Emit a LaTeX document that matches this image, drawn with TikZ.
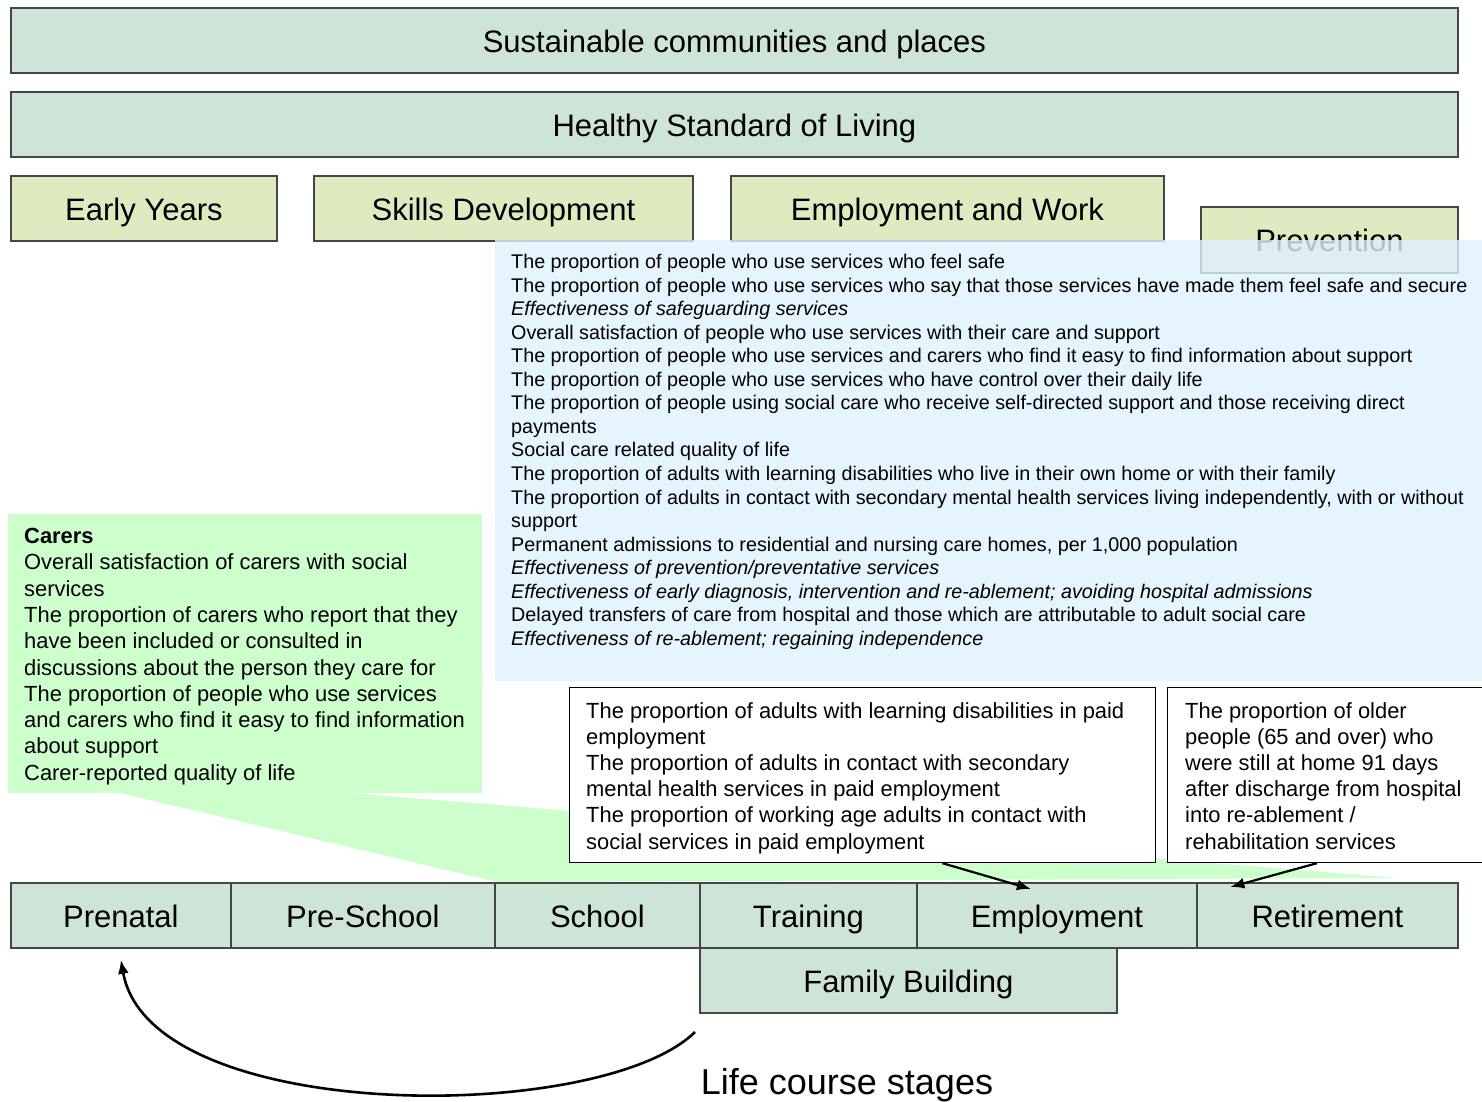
\documentclass[tikz,border=0pt]{standalone}
\usepackage{fontspec}
\setmainfont{Liberation Sans}
\usetikzlibrary{arrows.meta,calc}
\definecolor{stagefill}{RGB}{206,228,215}
\definecolor{themefill}{RGB}{222,235,192}
\definecolor{bluefill}{RGB}{224,241,254}
\definecolor{carerfill}{RGB}{204,255,204}
\definecolor{boxline}{RGB}{70,70,70}
\begin{document}
\begin{tikzpicture}[x=1pt,y=-1pt,
  bigbox/.style={draw=boxline, line width=1.8pt, fill=stagefill, anchor=north west, inner sep=0pt,
    minimum height=65pt, text height=27pt, text depth=3pt, font=\fontsize{31}{36}\selectfont},
  themebox/.style={bigbox, fill=themefill},
  stagebox/.style={bigbox},
  infotext/.style={anchor=north west, inner sep=0pt, align=left},
  whitebox/.style={draw=black, line width=1.2pt, fill=white, anchor=north west, inner sep=0pt, minimum height=175pt},
  arr/.style={line width=2.2pt, -{Latex[length=14pt,width=11pt]}}
]
\useasboundingbox (0,0) rectangle (1482,1102);

% top bands
\node[bigbox, minimum width=1447pt] (sus) at (10,7) {Sustainable communities and places};
\node[bigbox, minimum width=1447pt] (hsl) at (10,91) {Healthy Standard of Living};

% themes
\node[themebox, minimum width=266pt] (ey) at (10,175) {Early Years};
\node[themebox, minimum width=379pt] (sd) at (313,175) {Skills Development};
\node[themebox, minimum width=433pt] (ew) at (730,175) {Employment and Work};
\node[themebox, minimum width=257pt, minimum height=66pt] (prev) at (1200,206) {Prevention};

% blue info panel
\node[anchor=north west, inner sep=0pt, fill=bluefill, fill opacity=0.8, minimum width=987pt, minimum height=441pt] (blue) at (495,240) {};
\node[infotext, font=\fontsize{19.75}{23.56}\selectfont] (bluetext) at (511,254) {%
The proportion of people who use services who feel safe\\
The proportion of people who use services who say that those services have made them feel safe and secure\\
\textit{Effectiveness of safeguarding services}\\
Overall satisfaction of people who use services with their care and support\\
The proportion of people who use services and carers who find it easy to find information about support\\
The proportion of people who use services who have control over their daily life\\
The proportion of people using social care who receive self-directed support and those receiving direct\\
payments\\
Social care related quality of life\\
The proportion of adults with learning disabilities who live in their own home or with their family\\
The proportion of adults in contact with secondary mental health services living independently, with or without\\
support\\
Permanent admissions to residential and nursing care homes, per 1,000 population\\
\textit{Effectiveness of prevention/preventative services}\\
\textit{Effectiveness of early diagnosis, intervention and re-ablement; avoiding hospital admissions}\\
Delayed transfers of care from hospital and those which are attributable to adult social care\\
\textit{Effectiveness of re-ablement; regaining independence}};

% carers panel and funnel
\node[anchor=north west, inner sep=0pt, fill=carerfill, minimum width=474pt, minimum height=279pt] (carer) at (8,514) {};
\coordinate (f1) at (120,793);
\coordinate (f2) at (350,793);
\coordinate (f3) at (1398,878);
\coordinate (f4) at (497,882);
\fill[carerfill] (f1) -- (f2) -- (f3) -- (f4) -- cycle;
\node[infotext, font=\fontsize{21.9}{26.3}\selectfont] (carertext) at (24,528) {%
\textbf{Carers}\\
Overall satisfaction of carers with social\\
services\\
The proportion of carers who report that they\\
have been included or consulted in\\
discussions about the person they care for\\
The proportion of people who use services\\
and carers who find it easy to find information\\
about support\\
Carer-reported quality of life};

% white boxes
\node[whitebox, minimum width=586pt] (wb1) at (569,687) {};
\node[infotext, font=\fontsize{21.9}{26.2}\selectfont] (wb1text) at (586,702) {%
The proportion of adults with learning disabilities in paid\\
employment\\
The proportion of adults in contact with secondary\\
mental health services in paid employment\\
The proportion of working age adults in contact with\\
social services in paid employment};
\node[whitebox, minimum width=330pt] (wb2) at (1167,687) {};
\node[infotext, font=\fontsize{21.9}{26.2}\selectfont] (wb2text) at (1185,702) {%
The proportion of older\\
people (65 and over) who\\
were still at home 91 days\\
after discharge from hospital\\
into re-ablement /\\
rehabilitation services};

% life course stages
\node[stagebox, minimum width=220pt] (pre) at (10,882) {Prenatal};
\node[stagebox, minimum width=264pt] (ps) at (230,882) {Pre-School};
\node[stagebox, minimum width=205pt] (sch) at (494,882) {School};
\node[stagebox, minimum width=217pt] (tr) at (699,882) {Training};
\node[stagebox, minimum width=280pt] (emp) at (916,882) {Employment};
\node[stagebox, minimum width=261pt] (ret) at (1196,882) {Retirement};
\node[stagebox, minimum width=417pt] (fb) at (699,947) {Family Building};

\node[font=\fontsize{36}{40}\selectfont, inner sep=0pt] (lcs) at (847,1085) {Life course stages};

% connectors
\draw[arr] ($(wb1.south west)!0.636!(wb1.south east)$) -- ($(emp.north)+(-26,7)$);
\draw[arr] ($(wb2.south west)+(150,0)$) -- ($(ret.north)+(-97,5)$);
\coordinate (cyc) at (695,1032);
\draw[arr, line width=2.6pt] (cyc) .. controls (600,1125) and (150,1125) .. ($(pre.south)+(0,11)$);
\end{tikzpicture}
\end{document}
